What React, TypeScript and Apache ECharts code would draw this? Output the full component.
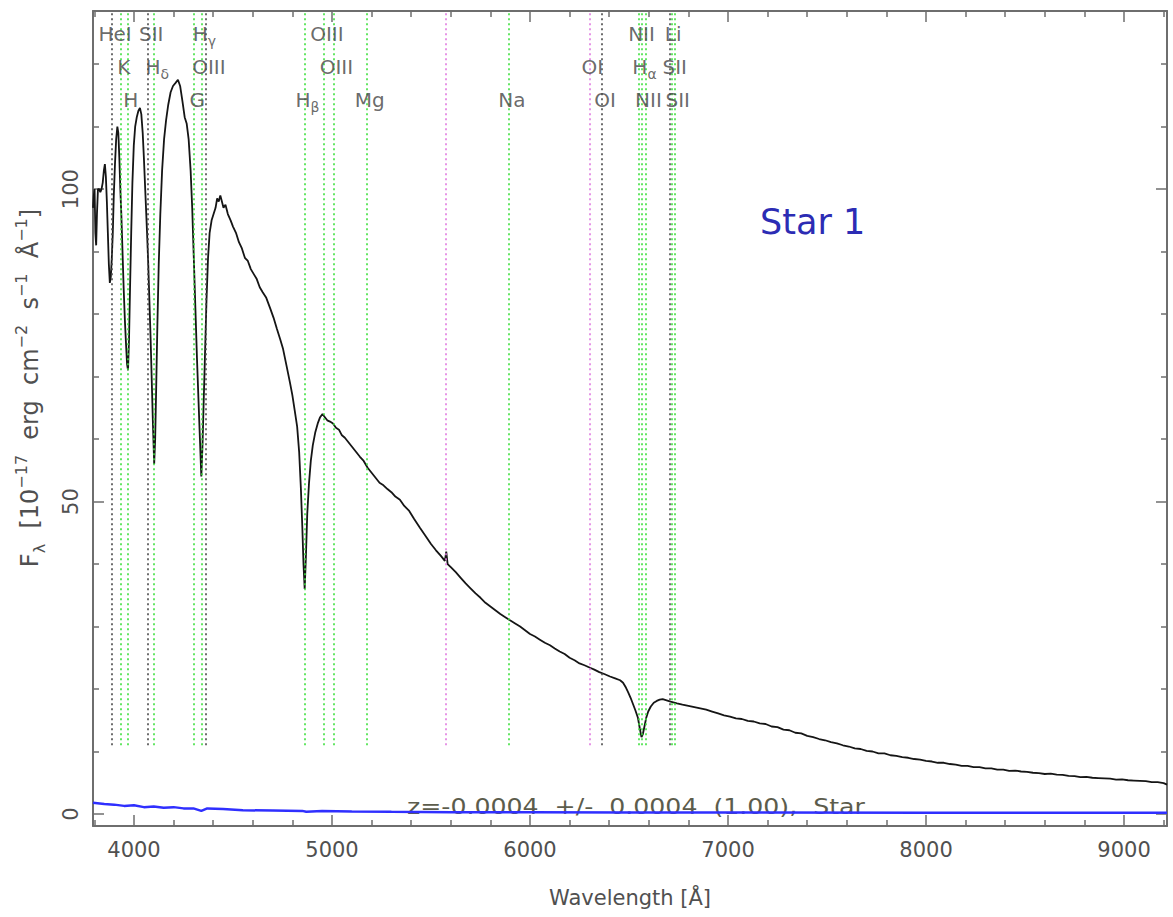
import React, { useEffect, useRef } from "react";
import * as echarts from "echarts";

// ---- Spectrum (wavelength in Å, flux in 1e-17 erg/cm2/s/Å) ----
const wavelengths = [
  3793, 3797, 3801, 3805, 3809, 3813, 3818, 3824, 3830, 3836, 3842, 3848, 3853, 3858, 3863, 3868, 3873, 3878, 3883, 3888,
  3893, 3898, 3904, 3910, 3916, 3921, 3926, 3931, 3936, 3942, 3948, 3954, 3960, 3965, 3970, 3975, 3980, 3986, 3992, 3999,
  4006, 4014, 4022, 4030, 4037, 4044, 4050, 4058, 4066, 4072, 4078, 4084, 4090, 4096, 4102, 4107, 4112, 4118, 4125, 4133,
  4142, 4152, 4162, 4173, 4185, 4197, 4210, 4222, 4233, 4245, 4256, 4266, 4276, 4286, 4294, 4302, 4310, 4318, 4326, 4333,
  4340, 4346, 4352, 4359, 4366, 4374, 4382, 4392, 4402, 4412, 4420, 4428, 4436, 4444, 4452, 4462, 4474, 4488, 4500, 4515,
  4530, 4545, 4560, 4575, 4590, 4605, 4620, 4635, 4650, 4668, 4687, 4705, 4722, 4738, 4753, 4770, 4788, 4800, 4812, 4824,
  4834, 4843, 4850, 4856, 4862, 4868, 4875, 4884, 4893, 4903, 4915, 4928, 4940, 4952, 4964, 4976, 4990, 5005, 5020, 5035,
  5050, 5065, 5080, 5100, 5120, 5140, 5160, 5180, 5200, 5220, 5240, 5260, 5280, 5300, 5320, 5343, 5365, 5390, 5415, 5444,
  5470, 5500, 5525, 5550, 5570, 5577, 5584, 5600, 5625, 5650, 5675, 5697, 5725, 5750, 5775, 5800, 5825, 5850, 5875, 5899,
  5925, 5950, 5975, 6000, 6025, 6050, 6075, 6101, 6125, 6150, 6175, 6200, 6225, 6250, 6275, 6303, 6325, 6350, 6375, 6404,
  6430, 6455, 6470, 6485, 6497, 6508, 6520, 6532, 6545, 6555, 6563, 6570, 6578, 6587, 6597, 6610, 6625, 6640, 6655, 6670,
  6690, 6710, 6742, 6770, 6800, 6830, 6860, 6890, 6920, 6950, 6980, 7010, 7040, 7070, 7100, 7130, 7160, 7190, 7220, 7250,
  7280, 7310, 7340, 7370, 7400, 7430, 7460, 7490, 7520, 7550, 7580, 7610, 7640, 7670, 7700, 7730, 7760, 7790, 7820, 7850,
  7880, 7910, 7940, 7970, 8000, 8030, 8060, 8090, 8121, 8150, 8180, 8210, 8240, 8270, 8300, 8330, 8360, 8390, 8420, 8450,
  8480, 8510, 8540, 8570, 8600, 8630, 8660, 8690, 8720, 8750, 8780, 8810, 8840, 8870, 8900, 8930, 8960, 8990, 9020, 9050,
  9080, 9110, 9140, 9170, 9200, 9217
];
const flux = [
  97, 99, 100, 93, 91, 96, 100, 100, 99.5, 100, 101, 103, 104, 102, 98, 93, 88, 85, 86, 89,
  93, 99, 104, 108, 110, 109, 105, 100, 96, 90, 84, 79, 75, 72, 71, 76, 84, 93, 101, 107,
  110, 111.5, 112.5, 113, 112, 109, 105, 99, 93, 88, 82, 76, 69, 62, 56, 60, 68, 78, 88, 96,
  103, 108, 111, 113.5, 115.5, 116.5, 117, 117.5, 116.5, 114, 111.5, 110.5, 108, 103, 97, 89, 81, 73, 66, 60,
  54, 59, 66, 74, 82, 89, 93, 95, 96, 97, 98.5, 98, 99, 98, 97, 97.5, 96, 95, 94, 93,
  91.5, 90.5, 89, 88.5, 87.2, 86.4, 85.6, 84.3, 83.5, 82.6, 81, 79.4, 77.6, 76, 74.4, 71.8, 69, 67, 64.5, 62,
  58, 52, 46, 40, 36, 41, 48, 53, 56.5, 59, 61, 62.5, 63.5, 64, 63.5, 63, 62.8, 62.5, 61.8, 61.5,
  60.6, 60.2, 59.6, 58.8, 58, 57.2, 56.5, 55.4, 54.6, 53.8, 53, 52.6, 52, 51.5, 50.8, 50.3, 49.3, 48.5, 47.2, 45.8,
  44.6, 43.2, 42.2, 41.3, 40.5, 42, 40, 39.5, 38.7, 37.8, 36.9, 36.2, 35.3, 34.6, 33.8, 33.2, 32.6, 32, 31.5, 31,
  30.5, 30, 29.4, 28.8, 28.4, 27.9, 27.4, 27, 26.5, 26, 25.6, 25, 24.6, 24.1, 23.8, 23.4, 23.1, 22.7, 22.4, 22,
  21.7, 21.4, 21, 20.2, 19.4, 18.6, 17.6, 16.6, 15.4, 13.6, 12.3, 12.8, 14, 15.4, 16.4, 17.2, 17.8, 18.1, 18.3, 18.4,
  18.2, 18, 17.7, 17.5, 17.3, 17.1, 16.9, 16.7, 16.4, 16.1, 15.8, 15.6, 15.3, 15.2, 14.9, 14.8, 14.5, 14.4, 14, 13.9,
  13.5, 13.4, 13, 12.9, 12.5, 12.3, 12, 11.8, 11.5, 11.3, 11, 10.8, 10.5, 10.4, 10.1, 10, 9.7, 9.7, 9.4, 9.3,
  9.1, 9, 8.8, 8.7, 8.5, 8.4, 8.2, 8.2, 8, 7.9, 7.7, 7.7, 7.5, 7.5, 7.3, 7.3, 7.1, 7.1, 6.9, 6.95,
  6.8, 6.75, 6.6, 6.55, 6.4, 6.45, 6.3, 6.25, 6.1, 6.05, 5.9, 5.95, 5.8, 5.75, 5.7, 5.65, 5.5, 5.55, 5.4, 5.35,
  5.3, 5.25, 5.1, 5.1, 4.95, 4.7
];

// ---- Error spectrum ----
const errWavelengths = [3793, 3850, 3900, 3950, 4000, 4050, 4100, 4150, 4200, 4250, 4300, 4340, 4370, 4450, 4550, 4700, 4850, 4870, 4950, 5100, 5300, 5600, 6000, 6500, 7000, 8000, 9217];
const errFlux = [1.8, 1.6, 1.5, 1.3, 1.4, 1.1, 1.2, 1.0, 1.1, 0.9, 0.9, 0.5, 0.9, 0.8, 0.6, 0.55, 0.5, 0.35, 0.5, 0.4, 0.35, 0.3, 0.3, 0.25, 0.25, 0.2, 0.2];

// ---- Axis ticks ----
const xMajorTicks = [4000, 5000, 6000, 7000, 8000, 9000];
const xMinorTicks = [3800, 4200, 4400, 4600, 4800, 5200, 5400, 5600, 5800, 6200, 6400, 6600, 6800, 7200, 7400, 7600, 7800, 8200, 8400, 8600, 8800, 9200];
const yMajorTicks = [0, 50, 100];
const yMinorTicks = [10, 20, 30, 40, 60, 70, 80, 90, 110, 120];

// ---- Spectral line markers ----
const lineWavelengths = [3889, 3934, 3969, 4072, 4102, 4304, 4340, 4363, 4861, 4959, 5007, 5175, 5577, 5893, 6300, 6364, 6548, 6563, 6583, 6708, 6716, 6731];
const lineKinds = ["k", "g", "g", "k", "g", "g", "g", "k", "g", "g", "g", "g", "m", "g", "m", "k", "g", "g", "g", "k", "g", "g"];

// ---- Line labels (row 1 = top) ----
const labelTexts = ["HeI", "SII", "H_γ", "OIII", "NII", "Li", "K", "H_δ", "OIII", "OIII", "OI", "H_α", "SII", "H", "G", "H_β", "Mg", "Na", "OI", "NII", "SII"];
const labelWavelengths = [3889, 4072, 4340, 4959, 6548, 6708, 3934, 4102, 4363, 5007, 6300, 6563, 6716, 3969, 4304, 4861, 5175, 5893, 6364, 6583, 6731];
const labelRows = [1, 1, 1, 1, 1, 1, 2, 2, 2, 2, 2, 2, 2, 3, 3, 3, 3, 3, 3, 3, 3];

const FONT = "DejaVu Sans";
const FRAME = "#6e6e6e";
const TEXT = "#505050";
const X_MIN = 3793, X_MAX = 9217, Y_MIN = -1.92, Y_MAX = 128.5;
const ROW_Y: Record<number, number> = { 1: 124.8, 2: 119.6, 3: 114.3 };
const KIND_COLOR: Record<string, string> = { g: "#3ee03e", k: "#4a4a4a", m: "#e07ae0" };

function xAxisDef(position: "bottom" | "top", ticks: number[], len: number, main: boolean) {
  return {
    type: "value",
    min: X_MIN,
    max: X_MAX,
    position,
    axisLine: { show: main, onZero: false, lineStyle: { color: FRAME, width: 2 } },
    axisTick: { show: true, inside: true, length: len, customValues: ticks, lineStyle: { color: FRAME, width: 1.5 } },
    axisLabel: main && position === "bottom"
      ? { show: true, customValues: ticks, color: TEXT, fontFamily: FONT, fontSize: 21, margin: 13, formatter: (v: number) => String(v) }
      : { show: false },
    splitLine: { show: false },
  };
}

function yAxisDef(position: "left" | "right", ticks: number[], len: number, main: boolean) {
  return {
    type: "value",
    min: Y_MIN,
    max: Y_MAX,
    position,
    axisLine: { show: main, onZero: false, lineStyle: { color: FRAME, width: 2 } },
    axisTick: { show: true, inside: true, length: len, customValues: ticks, lineStyle: { color: FRAME, width: 1.5 } },
    axisLabel: main && position === "left"
      ? { show: true, customValues: ticks, color: TEXT, fontFamily: FONT, fontSize: 21, margin: 12, rotate: 90, formatter: (v: number) => String(v) }
      : { show: false },
    splitLine: { show: false },
  };
}

function labelRich(t: string) {
  const parts = t.split("_");
  return parts.length > 1 ? `{n|${parts[0]}}{s|${parts[1]}}` : `{n|${t}}`;
}

export default function App() {
  const ref = useRef<HTMLDivElement>(null);
  useEffect(() => {
    const chart = echarts.init(ref.current!, null, { renderer: "svg" });

    const spectrum = wavelengths.map((w, i) => [w, flux[i]]);
    const errSpec = errWavelengths.map((w, i) => [w, errFlux[i]]);
    const markLines = lineWavelengths.map((w, i) => [
      { coord: [w, 11], lineStyle: { color: KIND_COLOR[lineKinds[i]], type: [2, 3], width: 1.6 } },
      { coord: [w, Y_MAX] },
    ]);
    const labelData = labelWavelengths.map((w, i) => ({ value: [w, ROW_Y[labelRows[i]]], name: labelTexts[i] }));

    const option: any = {
      animation: false,
      backgroundColor: "#ffffff",
      grid: { left: 93, right: 6, top: 11, bottom: 91, containLabel: false },
      xAxis: [
        xAxisDef("bottom", xMajorTicks, 11, true),
        xAxisDef("bottom", xMinorTicks, 6, false),
        xAxisDef("top", xMajorTicks, 11, true),
        xAxisDef("top", xMinorTicks, 6, false),
      ],
      yAxis: [
        yAxisDef("left", yMajorTicks, 11, true),
        yAxisDef("left", yMinorTicks, 6, false),
        yAxisDef("right", yMajorTicks, 11, true),
        yAxisDef("right", yMinorTicks, 6, false),
      ],
      series: [
        {
          type: "line",
          name: "lines",
          data: [],
          xAxisIndex: 0,
          yAxisIndex: 0,
          markLine: { silent: true, symbol: ["none", "none"], label: { show: false }, data: markLines, animation: false },
        },
        {
          type: "line",
          name: "error",
          data: errSpec,
          showSymbol: false,
          symbol: "none",
          lineStyle: { color: "#2f2fff", width: 2.5 },
          z: 3,
        },
        {
          type: "line",
          name: "flux",
          data: spectrum,
          showSymbol: false,
          symbol: "none",
          lineStyle: { color: "#151515", width: 1.8 },
          z: 4,
        },
        {
          type: "scatter",
          name: "labels",
          data: labelData,
          symbolSize: 1,
          itemStyle: { color: "rgba(0,0,0,0)" },
          z: 5,
          label: {
            show: true,
            position: "inside",
            offset: [3, 0],
            formatter: (p: any) => labelRich(p.name),
            rich: {
              n: { fontFamily: FONT, fontSize: 20, color: "#444", lineHeight: 28 },
              s: { fontFamily: FONT, fontSize: 14, color: "#444", lineHeight: 14, verticalAlign: "bottom" },
            },
          },
        },
      ],
      graphic: [
        {
          type: "text",
          x: 30,
          y: 388,
          rotation: Math.PI / 2,
          style: {
            text: "{n|F}{s|λ}{n|  [10}{p|−17}{n|  erg  cm}{p|−2}{n|  s}{p|−1}{n|  Å}{p|−1}{n|]}",
            align: "center",
            verticalAlign: "middle",
            rich: {
              n: { fontFamily: FONT, fontSize: 24, fill: TEXT, lineHeight: 34 },
              s: { fontFamily: FONT, fontSize: 16, fill: TEXT, lineHeight: 16, verticalAlign: "bottom" },
              p: { fontFamily: FONT, fontSize: 16, fill: TEXT, lineHeight: 16, verticalAlign: "top" },
            },
          },
        },
        {
          type: "text",
          x: 630,
          y: 898,
          style: { text: "Wavelength [Å]", fontFamily: FONT, fontSize: 21, fill: TEXT, align: "center", verticalAlign: "middle" },
        },
        {
          type: "text",
          x: 760,
          y: 222,
          style: { text: "Star 1", fontFamily: FONT, fontSize: 35, fill: "#2c2cb4", align: "left", verticalAlign: "middle" },
        },
        {
          type: "text",
          x: 407,
          y: 806,
          z: 1,
          scaleX: 1.2,
          style: { text: "z=-0.0004  +/-  0.0004  (1.00),  Star", fontFamily: FONT, fontSize: 21, fill: "#5c5c4c", align: "left", verticalAlign: "middle" },
        },
      ],
    };
    chart.setOption(option);
    return () => chart.dispose();
  }, []);
  return <div ref={ref} style={{ position: "fixed", left: 0, top: 0, width: 1173, height: 917, background: "#fff" }} />;
}
